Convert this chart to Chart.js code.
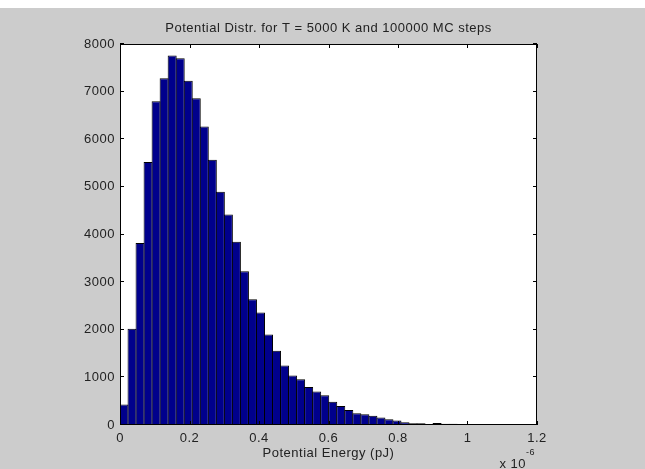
<!DOCTYPE html>
<html>
<head>
<meta charset="utf-8">
<title>Potential Distr.</title>
<script src="https://cdn.jsdelivr.net/npm/chart.js@4.4.1/dist/chart.umd.min.js"></script>
<style>
html, body { margin: 0; padding: 0; background: #fff; }
canvas { display: block; }
</style>
</head>
<body>
<canvas id="hist" width="645" height="469"></canvas>
<script>
// bin centres (x 1e-6 pJ)
var binCenters = [0.01155, 0.03465, 0.05775, 0.08085, 0.10395, 0.12705, 0.15015, 0.17325, 0.19635, 0.21945,
                  0.24255, 0.26565, 0.28875, 0.31185, 0.33495, 0.35805, 0.38115, 0.40425, 0.42735, 0.45045,
                  0.47355, 0.49665, 0.51975, 0.54285, 0.56595, 0.58905, 0.61215, 0.63525, 0.65835, 0.68145,
                  0.70455, 0.72765, 0.75075, 0.77385, 0.79695, 0.82005, 0.84315, 0.86625, 0.88935, 0.91245,
                  0.93555, 0.95865];

// counts per bin
var counts = [430, 2020, 3820, 5520, 6800, 7280, 7760, 7700, 7230, 6860,
              6270, 5570, 4900, 4420, 3850, 3230, 2640, 2360, 1900, 1560,
              1250, 1040, 960, 800, 705, 625, 490, 400, 315, 245,
              225, 196, 155, 119, 92, 58, 38, 36, 15, 40,
              25, 25];

var xTickLabels = ['0', '0.2', '0.4', '0.6', '0.8', '1', '1.2'];
var yTickLabels = ['0', '1000', '2000', '3000', '4000', '5000', '6000', '7000', '8000'];

var titleText = 'Potential Distr. for T = 5000 K and 100000 MC steps';
var xLabel = 'Potential Energy (pJ)';

var FONT = 'Liberation Sans, Arial, Helvetica, sans-serif';

// grey figure, white axes box, inward ticks on all four sides
var matlabAxes = {
    id: 'matlabAxes',
    beforeDraw: function(chart) {
        var ctx = chart.ctx, a = chart.chartArea;
        ctx.save();
        ctx.fillStyle = '#cccccc';
        ctx.fillRect(0, 0, chart.width, chart.height);
        ctx.fillStyle = '#ffffff';
        ctx.fillRect(0, 0, chart.width, 8);
        ctx.fillRect(a.left, a.top, a.right - a.left, a.bottom - a.top);
        ctx.restore();
        ctx.letterSpacing = '0.5px';
    },
    afterDraw: function(chart) {
        var ctx = chart.ctx, a = chart.chartArea;
        var xs = chart.scales.x, ys = chart.scales.y;
        ctx.save();
        ctx.strokeStyle = '#000';
        ctx.lineWidth = 1;
        ctx.beginPath();
        xs.ticks.forEach(function(t) {
            var px = Math.round(xs.getPixelForValue(t.value)) + 0.5;
            ctx.moveTo(px, a.bottom); ctx.lineTo(px, a.bottom - 4);
            ctx.moveTo(px, a.top); ctx.lineTo(px, a.top + 4);
        });
        ys.ticks.forEach(function(t) {
            var py = Math.round(ys.getPixelForValue(t.value)) - 0.5;
            ctx.moveTo(a.left, py); ctx.lineTo(a.left + 4, py);
            ctx.moveTo(a.right, py); ctx.lineTo(a.right - 4, py);
        });
        ctx.stroke();
        ctx.strokeRect(a.left + 0.5, a.top + 0.5, a.right - a.left - 1, a.bottom - a.top - 1);

        // exponent of the x axis
        ctx.fillStyle = '#222';
        ctx.textAlign = 'right';
        ctx.textBaseline = 'alphabetic';
        ctx.font = '13px ' + FONT;
        ctx.fillText('x 10', 526, 468);
        ctx.textAlign = 'left';
        ctx.font = '9px ' + FONT;
        ctx.fillText('-6', 526, 455);
        ctx.restore();
    }
};

var hist = new Chart(document.getElementById('hist'), {
    type: 'bar',
    data: {
        datasets: [{
            data: binCenters.map(function(c, i) { return { x: c, y: counts[i] }; }),
            backgroundColor: 'rgb(0, 0, 140)',
            borderColor: '#000',
            borderWidth: 1,
            borderSkipped: 'bottom',
            barPercentage: 1.1245,
            categoryPercentage: 1
        }]
    },
    options: {
        responsive: false,
        animation: false,
        devicePixelRatio: 1,
        layout: { padding: { left: 0, right: 108, top: 0, bottom: 0 } },
        plugins: {
            legend: { display: false },
            tooltip: { enabled: false },
            title: {
                display: true,
                text: titleText,
                fullSize: false,
                color: '#222',
                font: { family: FONT, size: 13, weight: 'normal' },
                padding: { top: 21, bottom: 7.4 }
            }
        },
        scales: {
            x: {
                type: 'linear',
                offset: false,
                min: 0,
                max: 1.2,
                grid: { display: false, drawTicks: false, offset: false },
                border: { display: false },
                ticks: {
                    stepSize: 0.2,
                    autoSkip: false,
                    maxRotation: 0,
                    padding: 6,
                    color: '#222',
                    font: { family: FONT, size: 13 },
                    callback: function(v, i) { return xTickLabels[i]; }
                },
                title: {
                    display: true,
                    text: xLabel,
                    color: '#222',
                    font: { family: FONT, size: 13 },
                    padding: { top: 0, bottom: 8 }
                },
                afterFit: function(s) { s.height = 44; }
            },
            y: {
                min: 0,
                max: 8000,
                grid: { display: false, drawTicks: false },
                border: { display: false },
                ticks: {
                    stepSize: 1000,
                    padding: 5,
                    color: '#222',
                    font: { family: FONT, size: 13 },
                    callback: function(v, i) { return yTickLabels[i]; }
                },
                afterFit: function(s) { s.width = 120; }
            }
        }
    },
    plugins: [matlabAxes]
});
</script>
</body>
</html>
